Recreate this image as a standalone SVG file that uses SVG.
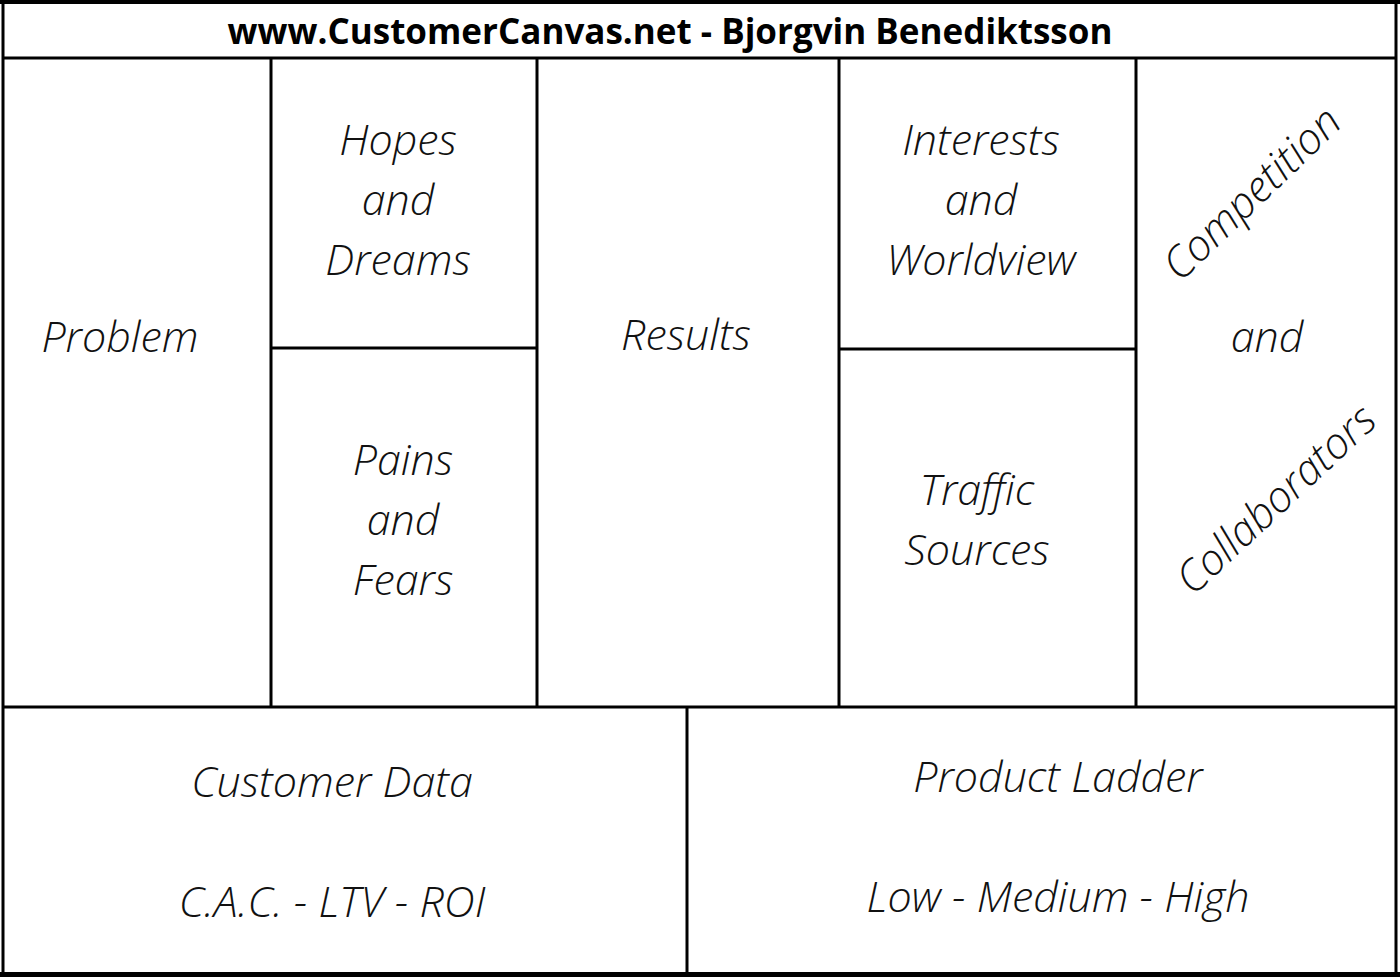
<svg xmlns="http://www.w3.org/2000/svg" width="1400" height="977" viewBox="0 0 1400 977">
  <style>
    .line { stroke: #000; stroke-width: 3; }
    .label { font-family: "Open Sans", "Liberation Sans", sans-serif; font-style: italic; font-weight: 300; font-size: 43px; fill: #111; text-anchor: middle; }
    .title { font-family: "Open Sans", "DejaVu Sans", sans-serif; font-weight: 700; font-size: 35px; fill: #000; text-anchor: middle; }
  </style>
  <rect width="1400" height="977" fill="#fff"/>

  <!-- outer frame and title band -->
  <g id="frame">
    <rect x="0" y="0" width="1400" height="4" fill="#000"/>
    <rect x="0" y="972" width="1400" height="5" fill="#000"/>
    <line class="line" x1="3" y1="2" x2="3" y2="975"/>
    <line class="line" x1="1396" y1="2" x2="1396" y2="975"/>
    <line class="line" x1="3" y1="58" x2="1396" y2="58"/>
    <line class="line" x1="3" y1="707" x2="1396" y2="707"/>
  </g>

  <g id="title">
    <text class="title" x="670" y="44">www.CustomerCanvas.net - Bjorgvin Benediktsson</text>
  </g>

  <!-- grid dividers -->
  <g id="dividers">
    <line class="line" x1="271" y1="58" x2="271" y2="707"/>
    <line class="line" x1="537" y1="58" x2="537" y2="707"/>
    <line class="line" x1="839" y1="58" x2="839" y2="707"/>
    <line class="line" x1="1136" y1="58" x2="1136" y2="707"/>
    <line class="line" x1="271" y1="348" x2="537" y2="348"/>
    <line class="line" x1="839" y1="349" x2="1136" y2="349"/>
    <line class="line" x1="687" y1="707" x2="687" y2="972"/>
  </g>

  <g id="problem">
    <text class="label" x="120" y="352">Problem</text>
  </g>
  <g id="hopes-dreams">
    <text class="label" x="398" y="155">Hopes</text>
    <text class="label" x="398" y="215">and</text>
    <text class="label" x="398" y="275">Dreams</text>
  </g>
  <g id="pains-fears">
    <text class="label" x="403" y="475">Pains</text>
    <text class="label" x="403" y="535">and</text>
    <text class="label" x="403" y="595">Fears</text>
  </g>
  <g id="results">
    <text class="label" x="686" y="350">Results</text>
  </g>
  <g id="interests-worldview">
    <text class="label" x="981" y="155">Interests</text>
    <text class="label" x="981" y="215">and</text>
    <text class="label" x="981" y="275">Worldview</text>
  </g>
  <g id="traffic-sources">
    <text class="label" x="977" y="505">Traffic</text>
    <text class="label" x="977" y="565">Sources</text>
  </g>
  <g id="competition-collaborators">
    <text class="label" transform="translate(1262,204) rotate(-44)">Competition</text>
    <text class="label" x="1267" y="352">and</text>
    <text class="label" transform="translate(1286,510) rotate(-43)">Collaborators</text>
  </g>
  <g id="customer-data">
    <text class="label" x="332" y="797">Customer Data</text>
    <text class="label" x="332" y="917">C.A.C. - LTV - ROI</text>
  </g>
  <g id="product-ladder">
    <text class="label" x="1058" y="792">Product Ladder</text>
    <text class="label" x="1058" y="912">Low - Medium - High</text>
  </g>
</svg>
